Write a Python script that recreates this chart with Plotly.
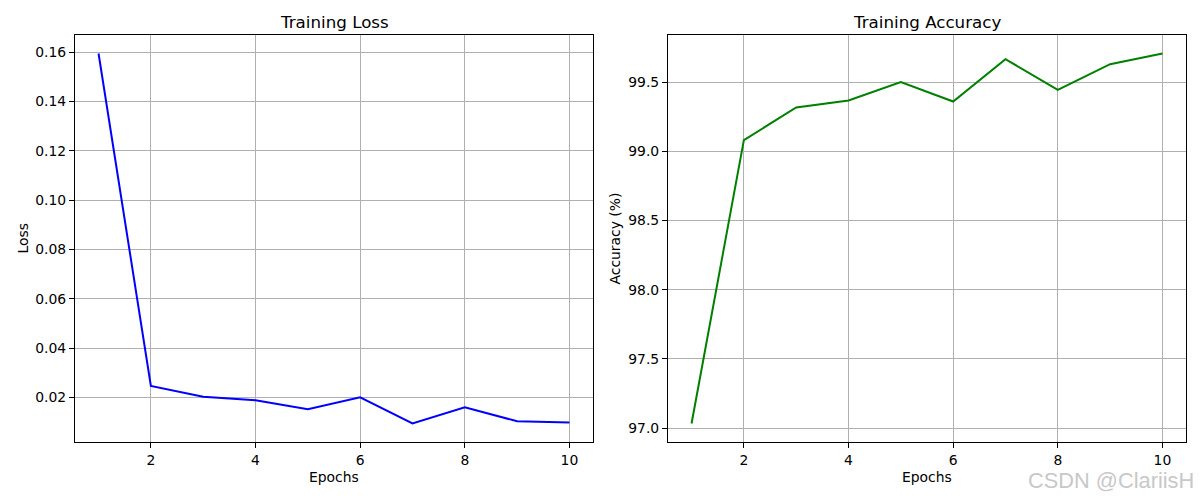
import plotly.graph_objects as go

epochs = [1, 2, 3, 4, 5, 6, 7, 8, 9, 10]
train_loss = [0.1594, 0.0247, 0.0203, 0.0189, 0.0153, 0.0201, 0.0095, 0.0161, 0.0104, 0.0099]
train_acc = [97.033, 99.081, 99.317, 99.367, 99.500, 99.360, 99.666, 99.444, 99.630, 99.707]

x_ticks = [2, 4, 6, 8, 10]
loss_ticks = [0.02, 0.04, 0.06, 0.08, 0.10, 0.12, 0.14, 0.16]
acc_ticks = [97.0, 97.5, 98.0, 98.5, 99.0, 99.5]

W, H = 1200, 500
FONT = "DejaVu Sans"

def mpl_range(vals):
    lo, hi = min(vals), max(vals)
    m = (hi - lo) * 0.05
    return [lo - m, hi + m]

fig = go.Figure()
fig.add_trace(go.Scatter(x=epochs, y=train_loss, mode="lines",
                         line=dict(color="#0000ff", width=2), xaxis="x", yaxis="y",
                         showlegend=False))
fig.add_trace(go.Scatter(x=epochs, y=train_acc, mode="lines",
                         line=dict(color="#008000", width=2), xaxis="x2", yaxis="y2",
                         showlegend=False))

L1, R1 = 75, 593
L2, R2 = 668, 1186
T, B = 35, 442

ax_common = dict(showline=True, mirror=True, linecolor="black", linewidth=1,
                 showgrid=True, gridcolor="#b0b0b0", gridwidth=1,
                 ticks="outside", ticklen=5, tickwidth=1, tickcolor="black",
                 zeroline=False, tickfont=dict(family=FONT, size=13.9, color="black"))

fig.update_layout(
    width=W, height=H,
    margin=dict(l=0, r=0, t=0, b=0),
    paper_bgcolor="white", plot_bgcolor="white",
    font=dict(family=FONT, color="black"),
    xaxis=dict(domain=[L1 / W, R1 / W], range=mpl_range(epochs), tickvals=x_ticks,
               anchor="y", **ax_common),
    yaxis=dict(domain=[1 - B / H, 1 - T / H], range=mpl_range(train_loss),
               tickvals=loss_ticks, tickformat=".2f", anchor="x", **ax_common),
    xaxis2=dict(domain=[L2 / W, R2 / W], range=mpl_range(epochs), tickvals=x_ticks,
                anchor="y2", **ax_common),
    yaxis2=dict(domain=[1 - B / H, 1 - T / H], range=mpl_range(train_acc),
                tickvals=acc_ticks, tickformat=".1f", anchor="x2", **ax_common),
)

ann = []
def add_text(text, x, y, size, rot=0, color="black", family=FONT):
    ann.append(dict(text=text, x=x / W, y=1 - y / H, xref="paper", yref="paper",
                    showarrow=False, xanchor="center", yanchor="middle",
                    textangle=rot, font=dict(family=family, size=size, color=color)))

add_text("Training Loss", (L1 + R1) / 2, 22, 16.7)
add_text("Training Accuracy", (L2 + R2) / 2, 22, 16.7)
add_text("Epochs", (L1 + R1) / 2, 477, 13.9)
add_text("Epochs", (L2 + R2) / 2, 477, 13.9)
add_text("Loss", 22, (T + B) / 2, 13.9, rot=-90)
add_text("Accuracy (%)", 614, (T + B) / 2, 13.9, rot=-90)
add_text("CSDN @ClariisH", 1111, 480, 21.8, color="#c8c8c8", family="Liberation Sans")
fig.update_layout(annotations=ann)

fig.write_html("out.html", config={"displayModeBar": False},
               post_script="document.body.style.margin='0';document.body.style.overflow='hidden';")
